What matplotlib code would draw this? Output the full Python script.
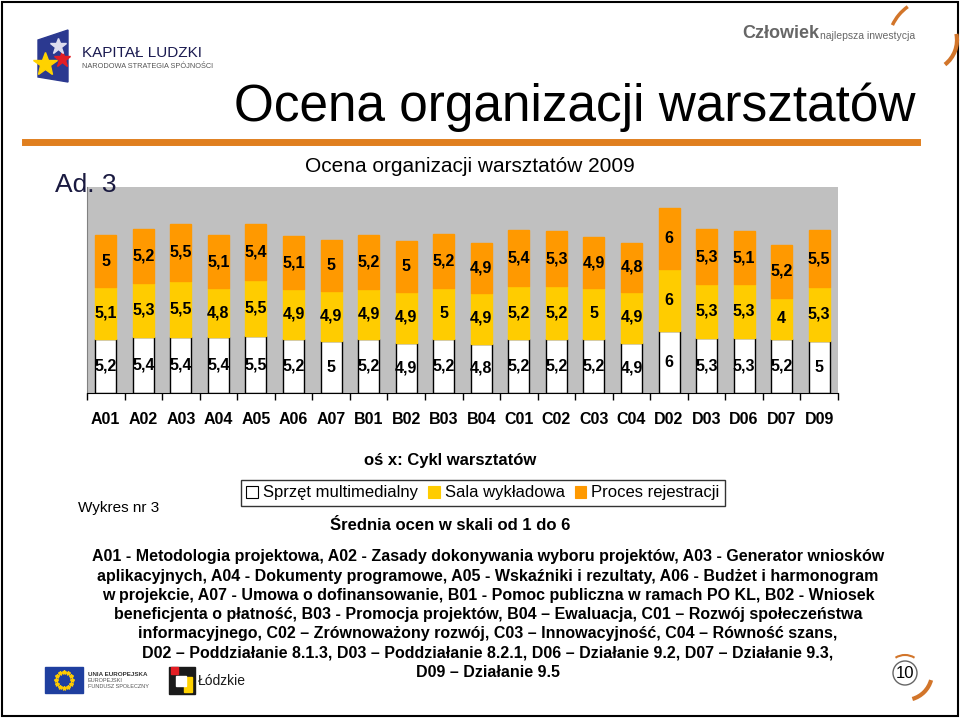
import matplotlib.pyplot as plt
import matplotlib.patches as mpatches
from matplotlib import font_manager
import numpy as np

# Data
categories = ['A01', 'A02', 'A03', 'A04', 'A05', 'A06', 'A07', 'B01', 'B02', 'B03',
              'B04', 'C01', 'C02', 'C03', 'C04', 'D02', 'D03', 'D06', 'D07', 'D09']
sprzet = [5.2, 5.4, 5.4, 5.4, 5.5, 5.2, 5.0, 5.2, 4.9, 5.2,
          4.8, 5.2, 5.2, 5.2, 4.9, 6.0, 5.3, 5.3, 5.2, 5.0]
sala = [5.1, 5.3, 5.5, 4.8, 5.5, 4.9, 4.9, 4.9, 4.9, 5.0,
        4.9, 5.2, 5.2, 5.0, 4.9, 6.0, 5.3, 5.3, 4.0, 5.3]
proces = [5.0, 5.2, 5.5, 5.1, 5.4, 5.1, 5.0, 5.2, 5.0, 5.2,
          4.9, 5.4, 5.3, 4.9, 4.8, 6.0, 5.3, 5.1, 5.2, 5.5]
series_names = ['Sprzęt multimedialny', 'Sala wykładowa', 'Proces rejestracji']
colors = ['#FFFFFF', '#FFCC00', '#FF9900']

installed = {f.name for f in font_manager.fontManager.ttflist}
narrow = 'Liberation Sans Narrow' if 'Liberation Sans Narrow' in installed else 'Liberation Sans'
plt.rcParams['font.family'] = [narrow, 'DejaVu Sans']

W, H = 960, 718
fig = plt.figure(figsize=(9.6, 7.18), dpi=100)


def fx(x):
    return x / W


def fy(y):
    return 1 - y / H


def ptext(x, y, s, **kw):
    fig.text(fx(x), fy(y), s, **kw)


def parc(cx, cy, r, t1, t2, **kw):
    # arc in pixel coords, angles in degrees
    fig.patches.append(mpatches.Arc((fx(cx), fy(cy)), 2 * r / W, 2 * r / H, theta1=t1, theta2=t2,
                                    transform=fig.transFigure, **kw))


def prect(x0, y0, x1, y1, **kw):
    fig.patches.append(mpatches.Rectangle((fx(x0), fy(y1)), fx(x1 - x0), fy(y0) - fy(y1),
                                          transform=fig.transFigure, **kw))


def pstar(x, y, size, color):
    fig.add_artist(plt.Line2D([fx(x)], [fy(y)], transform=fig.transFigure, marker='*',
                              markersize=size, color=color, linestyle='none'))


# slide frame
fig.patches.append(mpatches.Rectangle((0.002, 0.003), 0.996, 0.994, transform=fig.transFigure,
                                      fill=False, edgecolor='black', linewidth=1.5))

# header
ptext(575, 107, 'Ocena organizacji warsztatów', fontsize=37, ha='center', va='center')
fig.add_artist(plt.Line2D([fx(25), fx(917)], [fy(142), fy(142)], transform=fig.transFigure,
                          color='#E07F1F', linewidth=5))
ptext(470, 166, 'Ocena organizacji warsztatów 2009', fontsize=15, ha='center', va='center')
ptext(55, 185, 'Ad. 3', fontsize=19, ha='left', va='center', color='#1A1A40')

# corner arcs
parc(935, 45, 47, 118, 148, color='#D2752A', linewidth=2.5)
parc(926, 40, 31, -60, 15, color='#D2752A', linewidth=3)

# Kapitał Ludzki logo (simplified)
fig.patches.append(mpatches.Polygon([(fx(38), fy(40)), (fx(68), fy(30)), (fx(68), fy(82)), (fx(38), fy(77))],
                                    closed=True, transform=fig.transFigure, color='#2B3990'))
pstar(45, 64, 18, '#FFD200')
pstar(62, 59, 12, '#E31E24')
pstar(58, 46, 12, '#DDDDEE')
ptext(82, 53, 'KAPITAŁ LUDZKI', fontsize=11, ha='left', va='center', color='#1A1A50')
ptext(82, 66, 'NARODOWA STRATEGIA SPÓJNOŚCI', fontsize=5.3, ha='left', va='center', color='#555555')

# Człowiek najlepsza inwestycja
ptext(742, 34, 'Człowiek', fontsize=13, fontweight='bold', ha='left', va='center', color='#666666')
ptext(820, 36, 'najlepsza inwestycja', fontsize=7.5, ha='left', va='center', color='#666666')

# chart
ax = fig.add_axes([fx(87), fy(393), fx(838) - fx(87), fy(187) - fy(393)])
ax.set_facecolor('#C0C0C0')
x = np.arange(len(categories))
bw = 0.56
bottoms = np.zeros(len(categories))
handles = []
for vals, col, name in zip([sprzet, sala, proces], colors, series_names):
    ec = 'black' if col == '#FFFFFF' else col
    ax.bar(x, vals, bw, bottom=bottoms, color=col, edgecolor=ec, linewidth=1, label=name)
    for xi, b, v in zip(x, bottoms, vals):
        lab = ('%g' % v).replace('.', ',')
        ax.text(xi, b + v / 2, lab, ha='center', va='center', fontsize=11.5,
                fontweight='bold', family='Liberation Sans')
    bottoms += np.array(vals)
    handles.append(mpatches.Patch(facecolor=col, edgecolor=ec, linewidth=0.8))

ax.set_xlim(-0.5, len(categories) - 0.5)
ax.set_ylim(0, 20)
ax.set_yticks([])
ax.set_xticks(x)
ax.set_xticklabels(categories, fontsize=11.5, fontweight='bold', family='Liberation Sans')
ax.tick_params(axis='x', length=0, pad=14)
ax.set_xticks(np.arange(-0.5, len(categories)), minor=True)
ax.tick_params(axis='x', which='minor', length=5, width=1, direction='out')
for s in ['top', 'right']:
    ax.spines[s].set_visible(False)
ax.spines['left'].set_color('#808080')
ax.spines['bottom'].set_color('black')

ptext(450, 461, 'oś x: Cykl warsztatów', fontsize=12, fontweight='bold', ha='center', va='center')
leg = fig.legend(handles, series_names, loc='center', bbox_to_anchor=(fx(483), fy(493)), ncol=3,
                 fontsize=12, frameon=True, fancybox=False, edgecolor='black', handlelength=0.7,
                 handleheight=0.7, handletextpad=0.3, columnspacing=0.6, borderpad=0.35)
leg.get_frame().set_linewidth(1)
ptext(78, 508, 'Wykres nr 3', fontsize=11, ha='left', va='center')
ptext(450, 526, 'Średnia ocen w skali od 1 do 6', fontsize=12, fontweight='bold', ha='center', va='center')

desc = ['A01 - Metodologia projektowa, A02 - Zasady dokonywania wyboru projektów, A03 - Generator wniosków',
        'aplikacyjnych, A04 - Dokumenty programowe, A05 - Wskaźniki i rezultaty, A06 - Budżet i harmonogram',
        'w projekcie, A07 - Umowa o dofinansowanie, B01 - Pomoc publiczna w ramach PO KL, B02 - Wniosek',
        'beneficjenta o płatność, B03 - Promocja projektów, B04 – Ewaluacja, C01 – Rozwój społeczeństwa',
        'informacyjnego, C02 – Zrównoważony rozwój, C03 – Innowacyjność, C04 – Równość szans,',
        'D02 – Poddziałanie 8.1.3, D03 – Poddziałanie 8.2.1, D06 – Działanie 9.2, D07 – Działanie 9.3,',
        'D09 – Działanie 9.5']
for i, line in enumerate(desc):
    ptext(488, 557 + i * 19.2, line, fontsize=11.5, fontweight='bold', ha='center', va='center')

# bottom logos (simplified)
prect(45, 667, 83, 693, color='#1F3F9F')
ang = np.linspace(0, 2 * np.pi, 13)[:-1]
fig.add_artist(plt.Line2D(fx(64) + fx(8) * np.cos(ang), fy(680) + fx(8) * np.sin(ang) * W / H,
                          transform=fig.transFigure, linestyle='none', marker='*',
                          markersize=3, color='#FFCC00'))
ptext(88, 674, 'UNIA EUROPEJSKA', fontsize=4.5, fontweight='bold', ha='left', va='center', color='#333333')
ptext(88, 681, 'EUROPEJSKI', fontsize=4, ha='left', va='center', color='#555555')
ptext(88, 687, 'FUNDUSZ SPOŁECZNY', fontsize=4, ha='left', va='center', color='#555555')
prect(169, 667, 195, 694, color='#1A1A1A')
prect(171, 667, 178, 674, color='#E31E24')
prect(184, 677, 192, 692, color='#FFD200')
prect(176, 676, 186, 686, color='white')
ptext(198, 681, 'Łódzkie', fontsize=10, ha='left', va='center', color='#1A1A1A')

# page number
fig.patches.append(mpatches.Ellipse((fx(905), fy(673)), fx(24), fx(24) * W / H, transform=fig.transFigure,
                                    fill=False, edgecolor='#666666', linewidth=1))
ptext(905, 673, '10', fontsize=12, ha='center', va='center')
parc(905, 673, 18, 65, 115, color='#D2752A', linewidth=1.5)
parc(905, 673, 27, -78, -20, color='#D2752A', linewidth=3)

fig.savefig('out.png', dpi=100)
